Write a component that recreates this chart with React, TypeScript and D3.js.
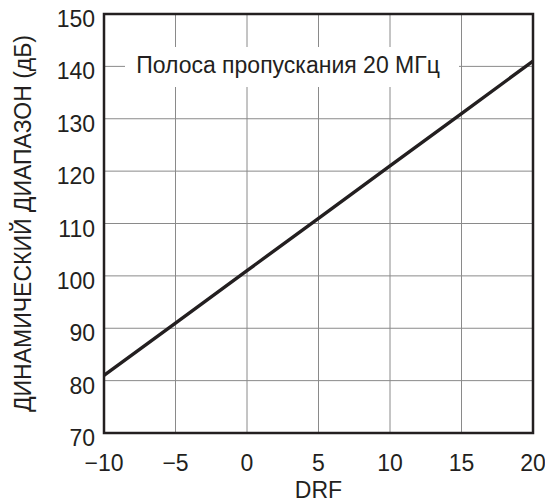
import React from "react";
import * as d3 from "d3";

const drf = [-10, -5, 0, 5, 10, 15, 20];
const dynamicRange = [81, 91, 101, 111, 121, 131, 141];
const xTicks = [-10, -5, 0, 5, 10, 15, 20];
const yTicks = [70, 80, 90, 100, 110, 120, 130, 140, 150];
const annotation = "Полоса пропускания 20 МГц";
const xTitle = "DRF";
const yTitle = "ДИНАМИЧЕСКИЙ ДИАПАЗОН (дБ)";

const W = 545;
const H = 502;
const L = 104, R = 533, T = 14, B = 433;
const FONT = "'Liberation Sans', Arial, sans-serif";

export default function App() {
  const x = d3.scaleLinear().domain([-10, 20]).range([L, R]);
  const y = d3.scaleLinear().domain([70, 150]).range([B, T]);
  const line = d3
    .line<number>()
    .x((_, i) => x(drf[i]))
    .y((d) => y(d));
  const fmt = (v: number) => (v < 0 ? "\u2212" + Math.abs(v) : String(v));

  return (
    <svg
      width={W}
      height={H}
      style={{ position: "absolute", left: 0, top: 0, background: "#fff" }}
      fontFamily={FONT}
    >
      <rect x={0} y={0} width={W} height={H} fill="#fff" />
      {xTicks.map((t) => (
        <line key={"gx" + t} x1={x(t)} x2={x(t)} y1={T} y2={B} stroke="#8a8a8a" strokeWidth={1} />
      ))}
      {yTicks.map((t) => (
        <line key={"gy" + t} x1={L} x2={R} y1={y(t)} y2={y(t)} stroke="#8a8a8a" strokeWidth={1} />
      ))}
      <rect x={125} y={47} width={334} height={40} fill="#fff" />
      <text x={288} y={73} textAnchor="middle" fontSize={23} fill="#231f20">
        {annotation}
      </text>
      <path d={line(dynamicRange) || ""} fill="none" stroke="#231f20" strokeWidth={3.4} />
      <rect x={L} y={T} width={R - L} height={B - T} fill="none" stroke="#231f20" strokeWidth={2.5} />
      {yTicks.map((t) => (
        <text key={"ty" + t} x={95} y={y(t) + 13} textAnchor="end" fontSize={23} fill="#231f20">
          {fmt(t)}
        </text>
      ))}
      {xTicks.map((t) => (
        <text key={"tx" + t} x={x(t)} y={471} textAnchor="middle" fontSize={23} fill="#231f20">
          {fmt(t)}
        </text>
      ))}
      <text x={(L + R) / 2} y={498} textAnchor="middle" fontSize={23} fill="#231f20">
        {xTitle}
      </text>
      <text
        transform={`translate(31, ${(T + B) / 2}) rotate(-90)`}
        textAnchor="middle"
        fontSize={23}
        fill="#231f20"
      >
        {yTitle}
      </text>
    </svg>
  );
}
